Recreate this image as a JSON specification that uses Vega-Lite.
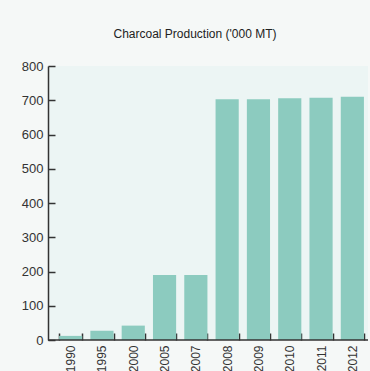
{
  "$schema": "https://vega.github.io/schema/vega-lite/v6.json",
  "width": 320,
  "height": 274,
  "autosize": "none",
  "padding": {"left": 48, "top": 66, "right": 2, "bottom": 31},
  "background": "#f5f8f7",
  "title": {
    "text": "Charcoal Production ('000 MT)",
    "fontSize": 12,
    "font": "Liberation Sans",
    "fontWeight": "normal",
    "color": "#222222",
    "anchor": "middle",
    "dx": -13,
    "offset": 19
  },
  "config": {
    "view": {"fill": "#ecf5f4", "stroke": null},
    "font": "Liberation Sans"
  },
  "data": {
    "values": [
      {"year": "1990", "value": 12},
      {"year": "1995", "value": 27},
      {"year": "2000", "value": 42},
      {"year": "2005", "value": 190},
      {"year": "2007", "value": 190},
      {"year": "2008", "value": 703},
      {"year": "2009", "value": 703},
      {"year": "2010", "value": 706},
      {"year": "2011", "value": 707},
      {"year": "2012", "value": 710}
    ]
  },
  "layer": [
    {
      "mark": {"type": "bar", "color": "#8ccbbf"},
      "encoding": {
        "x": {
          "field": "year",
          "type": "ordinal",
          "sort": null,
          "scale": {"range": [7, 320], "paddingInner": 0.26, "paddingOuter": 0.13},
          "axis": {
            "title": null,
            "domain": false,
            "tickBand": "extent",
            "tickSize": -7,
            "tickColor": "#333333",
            "tickWidth": 1.5,
            "labelPadding": 12,
            "labelAngle": -90,
            "labelAlign": "right",
            "labelBaseline": "middle",
            "labelFontSize": 12,
            "labelColor": "#333333",
            "labelOverlap": false
          }
        },
        "y": {
          "field": "value",
          "type": "quantitative",
          "scale": {"domain": [0, 800], "nice": false},
          "axis": {
            "title": null,
            "grid": false,
            "values": [0, 100, 200, 300, 400, 500, 600, 700, 800],
            "domainColor": "#333333",
            "domainWidth": 1.5,
            "tickSize": -7,
            "tickColor": "#333333",
            "tickWidth": 1.5,
            "labelPadding": 12,
            "labelFontSize": 13,
            "labelColor": "#333333",
            "labelOverlap": false,
            "labelFlush": false
          }
        }
      }
    },
    {
      "data": {"values": [{}]},
      "mark": {"type": "rule", "color": "#333333", "strokeWidth": 1.5},
      "encoding": {
        "y": {
          "datum": 0,
          "type": "quantitative",
          "axis": {
            "title": null,
            "grid": false,
            "values": [0, 100, 200, 300, 400, 500, 600, 700, 800],
            "domainColor": "#333333",
            "domainWidth": 1.5,
            "tickSize": -7,
            "tickColor": "#333333",
            "tickWidth": 1.5,
            "labelPadding": 12,
            "labelFontSize": 13,
            "labelColor": "#333333",
            "labelOverlap": false,
            "labelFlush": false
          }
        }
      }
    }
  ]
}
